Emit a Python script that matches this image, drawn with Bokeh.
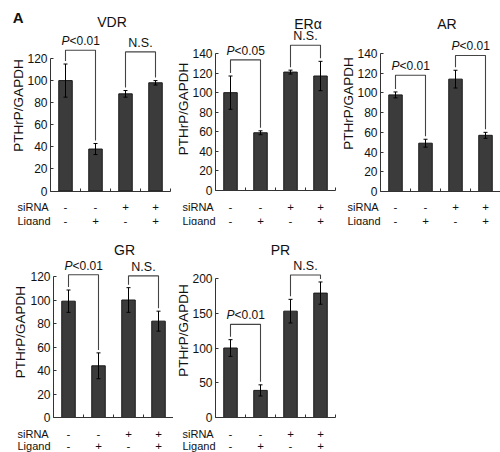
import math
from bokeh.plotting import figure
from bokeh.models import Range1d, FixedTicker, Whisker, ColumnDataSource, TeeHead
from bokeh.layouts import row, column
from bokeh.embed import file_html
from bokeh.resources import INLINE
from bokeh.core.properties import value

# ---------------- data ----------------
row_headers = ["siRNA", "Ligand"]
sirna = ["-", "-", "+", "+"]
ligand = ["-", "+", "-", "+"]
sig_pairs = [(0, 1), (2, 3)]

vdr_vals = [100, 38, 88, 98]
vdr_errs = [15, 5, 3, 2]
vdr_sig = ["P<0.01", "N.S."]
vdr_sig_h = [127.5, 126]
vdr_ticks = [0, 20, 40, 60, 80, 100, 120]

era_vals = [100, 59, 121, 117]
era_errs = [17, 2, 2, 15]
era_sig = ["P<0.05", "N.S."]
era_sig_h = [133.5, 148.5]
era_ticks = [0, 20, 40, 60, 80, 100, 120, 140]

ar_vals = [98, 49, 114, 57]
ar_errs = [3, 4, 9, 3]
ar_sig = ["P<0.01", "P<0.01"]
ar_sig_h = [118, 138]
ar_ticks = [0, 20, 40, 60, 80, 100, 120, 140]

gr_vals = [99, 44, 100, 82]
gr_errs = [9.5, 11, 10.5, 8.5]
gr_sig = ["P<0.01", "N.S."]
gr_sig_h = [121.5, 120.5]
gr_ticks = [0, 20, 40, 60, 80, 100, 120]

pr_vals = [100, 39, 153, 179]
pr_errs = [12, 8, 17, 16]
pr_sig = ["P<0.01", "N.S."]
pr_sig_h = [134, 205]
pr_ticks = [0, 50, 100, 150, 200]

FONT = value("Arial")
BAR = "#3b3b3b"
INK = "#111111"
CAT_PX = 30  # pixels per category


def panel(title, vals, errs, sig, sig_h, ticks, W, H, x0, y0, ppu,
          title_xy, ylab_xy, hdr_x, rows_y, show_a=False):
    """x0, y0: pixel position (from figure top-left) of the data origin."""
    X = lambda px: (px - x0) / CAT_PX
    Y = lambda py: (y0 - py) / ppu

    p = figure(width=W, height=H, output_backend="svg", toolbar_location=None,
               x_range=Range1d(X(0), X(W)), y_range=Range1d(Y(H), Y(0)),
               min_border=0)
    p.outline_line_color = None
    p.grid.visible = False

    xs = [i + 0.5 for i in range(len(vals))]
    src = ColumnDataSource(dict(x=xs, top=vals,
                                upper=[v + e for v, e in zip(vals, errs)],
                                lower=[v - e for v, e in zip(vals, errs)]))
    p.vbar(x="x", top="top", width=0.45, source=src, fill_color=BAR,
           line_color="#1a1a1a", line_width=1)
    w = Whisker(base="x", upper="upper", lower="lower", source=src,
                line_color="black", line_width=1,
                upper_head=TeeHead(size=4, line_color="black", line_width=1),
                lower_head=TeeHead(size=4, line_color="black", line_width=1))
    w.level = "overlay"
    p.add_layout(w)

    # significance brackets
    gap = 3 / ppu
    bxs, bys = [], []
    for (i, j), h in zip(sig_pairs, sig_h):
        bxs.append([xs[i], xs[i], xs[j], xs[j]])
        bys.append([vals[i] + errs[i] + gap, h, h, vals[j] + errs[j] + gap])
    p.multi_line(bxs, bys, line_color="#444444", line_width=1.1)
    for (i, j), h, s in zip(sig_pairs, sig_h, sig):
        mid = (xs[i] + xs[j]) / 2
        if s.startswith("P"):
            p.text([mid], [h], text=["P"], text_font_style="italic", x_offset=-11,
                   y_offset=-2, text_align="right", text_baseline="bottom",
                   text_font_size="12px", text_color=INK, text_font=FONT)
            p.text([mid], [h], text=[s[1:]], x_offset=-11, y_offset=-2,
                   text_align="left", text_baseline="bottom",
                   text_font_size="12px", text_color=INK, text_font=FONT)
        else:
            p.text([mid], [h], text=[s], y_offset=-2, text_align="center",
                   text_baseline="bottom", text_font_size="12.5px",
                   text_color=INK, text_font=FONT)

    # axes drawn at the data origin
    ya = p.yaxis[0]
    ya.fixed_location = 0
    ya.ticker = FixedTicker(ticks=ticks, minor_ticks=[])
    ya.bounds = (0, ticks[-1])
    ya.major_tick_in = 3
    ya.major_tick_out = 0
    ya.minor_tick_line_color = None
    ya.major_label_standoff = 3
    ya.major_label_text_font = "Arial"
    ya.major_label_text_font_size = "12px"
    ya.major_label_text_color = INK
    ya.axis_line_color = "#333333"
    ya.major_tick_line_color = "#333333"

    xa = p.xaxis[0]
    xa.fixed_location = 0
    xa.ticker = FixedTicker(ticks=xs, minor_ticks=list(range(len(vals) + 1)))
    xa.bounds = (0, len(vals))
    xa.major_tick_in = 0
    xa.major_tick_out = 0
    xa.minor_tick_in = 3
    xa.minor_tick_out = 0
    xa.minor_tick_line_color = "#333333"
    xa.axis_line_color = "#333333"
    xa.major_label_text_color = None

    # y axis title
    p.text([X(ylab_xy[0])], [Y(ylab_xy[1])], text=["PTHrP/GAPDH"], angle=math.pi / 2,
           text_align="center", text_baseline="middle", text_font=FONT,
           text_font_size="13.5px", text_color=INK)

    # condition table under the bars
    for k, (hdr, signs) in enumerate(zip(row_headers, [sirna, ligand])):
        yy = Y(rows_y[k])
        p.text([X(hdr_x)], [yy], text=[hdr], text_align="left", text_baseline="middle",
               text_font=FONT, text_font_size="11px", text_color=INK)
        p.text(xs, [yy] * len(xs), text=signs, text_align="center",
               text_baseline="middle", text_font=FONT, text_font_size="11.5px",
               text_color=INK)

    # panel title
    p.text([X(title_xy[0])], [Y(title_xy[1])], text=[title], text_align="center",
           text_baseline="middle", text_font=FONT, text_font_size="14px",
           text_color=INK)
    if show_a:
        p.text([X(17.7)], [Y(16.7)], text=["A"], text_align="center",
               text_baseline="middle", text_font=FONT, text_font_size="15px",
               text_font_style="bold", text_color=INK)
    return p


top_rows = (206.7, 220)
bot_rows = (208, 220.5)
p1 = panel("VDR", vdr_vals, vdr_errs, vdr_sig, vdr_sig_h, vdr_ticks,
           173, 225, 50, 190.5, 132.5 / 120, (111.5, 21), (18, 105), 17, top_rows,
           show_a=True)
p2 = panel("ER\u03b1", era_vals, era_errs, era_sig, era_sig_h, era_ticks,
           165, 225, 42, 190, 137 / 140, (134.5, 23), (10, 108.5), 9, top_rows)
p3 = panel("AR", ar_vals, ar_errs, ar_sig, ar_sig_h, ar_ticks,
           162, 225, 42, 191, 138 / 140, (108.5, 23), (10, 103), 9, top_rows)
p4 = panel("GR", gr_vals, gr_errs, gr_sig, gr_sig_h, gr_ticks,
           173, 227, 53, 192, 141 / 120, (124, 24.5), (20, 106.7), 17, bot_rows)
p5 = panel("PR", pr_vals, pr_errs, pr_sig, pr_sig_h, pr_ticks,
           165, 227, 42, 192, 139 / 200, (107, 24), (10, 105), 9, bot_rows)

layout = column(row(p1, p2, p3), row(p4, p5))
open("out.html", "w").write(file_html(layout, INLINE))
